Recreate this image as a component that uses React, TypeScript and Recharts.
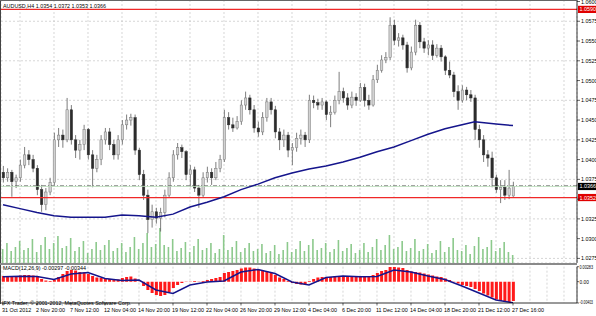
import React from "react";
import {
  Bar,
  CartesianGrid,
  ComposedChart,
  Line,
  ReferenceLine,
  XAxis,
  YAxis,
} from "recharts";

// AUDUSD H4, one candle per 8h (two H4 bars), 31 Oct – 27 Dec 2012
const openP = [
  1.0384, 1.0377, 1.0384, 1.0372, 1.0377, 1.0393, 1.0406, 1.04, 1.0389, 1.0362,
  1.0343, 1.0359, 1.0371, 1.0425, 1.0431, 1.0425, 1.0463, 1.0425, 1.0412, 1.0419,
  1.0438, 1.0406, 1.0389, 1.04, 1.0425, 1.0435, 1.0419, 1.0406, 1.0425, 1.0444,
  1.045, 1.0453, 1.0412, 1.0381, 1.0355, 1.0324, 1.0334, 1.0326, 1.0333, 1.0355,
  1.0377, 1.0406, 1.0415, 1.041, 1.0381, 1.0387, 1.0364, 1.0355, 1.0377, 1.0384,
  1.0377, 1.0389, 1.04, 1.0453, 1.0444, 1.044, 1.0448, 1.0469, 1.0478, 1.0463,
  1.044, 1.0435, 1.0453, 1.0473, 1.0463, 1.0435, 1.0425, 1.0431, 1.0412, 1.0415,
  1.0427, 1.0431, 1.0425, 1.0475, 1.0472, 1.0469, 1.0473, 1.0457, 1.046, 1.0475,
  1.0486, 1.0478, 1.0469, 1.0479, 1.0475, 1.0491, 1.0475, 1.0469, 1.0501, 1.0513,
  1.0526, 1.0529, 1.057, 1.0551, 1.0554, 1.0545, 1.0516, 1.0536, 1.057, 1.0549,
  1.0541, 1.0545, 1.0532, 1.0541, 1.053, 1.0513, 1.0507, 1.0486, 1.0475, 1.0488,
  1.0482, 1.0478, 1.0438, 1.0425, 1.0406, 1.0402, 1.0377, 1.0362, 1.0365, 1.0355,
  1.0354,
];
const highP = [
  1.0392, 1.0389, 1.0387, 1.0381, 1.04, 1.0416, 1.0412, 1.0406, 1.0393, 1.0368,
  1.0364, 1.0377, 1.0434, 1.044, 1.0438, 1.0478, 1.0469, 1.0431, 1.0425, 1.0444,
  1.044, 1.0412, 1.0406, 1.0431, 1.044, 1.044, 1.0425, 1.0431, 1.045, 1.0457,
  1.0458, 1.0457, 1.0415, 1.0387, 1.0362, 1.0343, 1.0339, 1.0339, 1.0362, 1.0384,
  1.0412, 1.0421, 1.0419, 1.0412, 1.0393, 1.0391, 1.0368, 1.0384, 1.0391, 1.0389,
  1.0397, 1.0406, 1.0463, 1.046, 1.0453, 1.0455, 1.0475, 1.0486, 1.0482, 1.0469,
  1.0448, 1.046, 1.0478, 1.0478, 1.0468, 1.044, 1.0438, 1.0435, 1.0421, 1.0434,
  1.0438, 1.0435, 1.0482, 1.0481, 1.0477, 1.0478, 1.0475, 1.0468, 1.0481, 1.0511,
  1.0491, 1.0484, 1.0486, 1.0484, 1.0497, 1.0496, 1.0482, 1.0507, 1.052, 1.0532,
  1.0536, 1.058, 1.0577, 1.056, 1.0558, 1.0549, 1.0543, 1.0577, 1.0574, 1.0554,
  1.0551, 1.0551, 1.0546, 1.0545, 1.0532, 1.0524, 1.0511, 1.0494, 1.0494, 1.0492,
  1.0488, 1.0482, 1.0444, 1.0431, 1.0412, 1.041, 1.0381, 1.0374, 1.0374, 1.0387,
  1.0372,
];
const lowP = [
  1.0371, 1.0372, 1.0353, 1.0364, 1.0372, 1.0389, 1.0393, 1.0384, 1.0355, 1.0334,
  1.0336, 1.0355, 1.0368, 1.0416, 1.0415, 1.0422, 1.0419, 1.0402, 1.04, 1.0412,
  1.04, 1.0365, 1.0384, 1.0393, 1.0419, 1.0412, 1.04, 1.04, 1.0419, 1.0438,
  1.0443, 1.0406, 1.0374, 1.0349, 1.0307, 1.0314, 1.0319, 1.0309, 1.0327, 1.0352,
  1.0372, 1.04, 1.0402, 1.0374, 1.0365, 1.0359, 1.0339, 1.0352, 1.0371, 1.0368,
  1.0374, 1.0384, 1.0397, 1.0438, 1.0435, 1.0438, 1.0444, 1.0463, 1.0457, 1.0434,
  1.0429, 1.0431, 1.0448, 1.0457, 1.0427, 1.0412, 1.0416, 1.0403, 1.0393, 1.041,
  1.0419, 1.0416, 1.0421, 1.0465, 1.0463, 1.0463, 1.045, 1.0441, 1.0457, 1.047,
  1.0472, 1.0463, 1.0465, 1.0468, 1.0473, 1.0467, 1.0463, 1.0467, 1.0497, 1.051,
  1.0522, 1.0526, 1.0545, 1.0543, 1.0539, 1.051, 1.0513, 1.0532, 1.0541, 1.0535,
  1.0532, 1.0526, 1.0529, 1.0524, 1.0507, 1.0503, 1.0479, 1.0463, 1.0472, 1.0475,
  1.0473, 1.0425, 1.0415, 1.0397, 1.0391, 1.0365, 1.0358, 1.0345, 1.0349, 1.035,
  1.0353,
];
const closeP = [
  1.0377, 1.0384, 1.0372, 1.0377, 1.0393, 1.0406, 1.04, 1.0389, 1.0362, 1.0343,
  1.0359, 1.0371, 1.0425, 1.0431, 1.0425, 1.0463, 1.0425, 1.0412, 1.0419, 1.0438,
  1.0406, 1.0389, 1.04, 1.0425, 1.0435, 1.0419, 1.0406, 1.0425, 1.0444, 1.045,
  1.0453, 1.0412, 1.0381, 1.0355, 1.0324, 1.0334, 1.0326, 1.0333, 1.0355, 1.0377,
  1.0406, 1.0415, 1.041, 1.0381, 1.0387, 1.0364, 1.0355, 1.0377, 1.0384, 1.0377,
  1.0389, 1.04, 1.0453, 1.0444, 1.044, 1.0448, 1.0469, 1.0478, 1.0463, 1.044,
  1.0435, 1.0453, 1.0473, 1.0463, 1.0435, 1.0425, 1.0431, 1.0412, 1.0415, 1.0427,
  1.0431, 1.0425, 1.0475, 1.0472, 1.0469, 1.0473, 1.0457, 1.046, 1.0475, 1.0486,
  1.0478, 1.0469, 1.0479, 1.0475, 1.0491, 1.0475, 1.0469, 1.0501, 1.0513, 1.0526,
  1.0529, 1.057, 1.0551, 1.0554, 1.0545, 1.0516, 1.0536, 1.057, 1.0549, 1.0541,
  1.0545, 1.0532, 1.0541, 1.053, 1.0513, 1.0507, 1.0486, 1.0475, 1.0488, 1.0482,
  1.0478, 1.0438, 1.0425, 1.0406, 1.0402, 1.0377, 1.0362, 1.0365, 1.0355, 1.0364,
  1.0366,
];
const volumes = [
  1400, 2000, 1200, 1600, 2200, 1300, 1500, 2400, 1100, 1800, 2600, 1400,
  2000, 2700, 1500, 1700, 2500, 1200, 1600, 2200, 1000, 1400, 2100, 1300,
  1800, 2300, 1200, 1500, 2000, 1100, 1600, 2600, 1400, 2000, 3000, 1600,
  1900, 3500, 1800, 1600, 2400, 1200, 1500, 2100, 1100, 1700, 2400, 1300,
  1500, 2000, 1000, 1400, 2800, 1300, 1600, 2200, 1100, 1500, 2000, 1200,
  1400, 1900, 1000, 1200, 1800, 900, 1300, 2100, 1100, 1400, 2200, 1200,
  1800, 2400, 1300, 1500, 2000, 1100, 1400, 2300, 1200, 1500, 1900, 1000,
  1300, 2000, 1100, 1600, 2400, 1300, 1800, 2800, 1400, 1600, 2200, 1200,
  1500, 2400, 1200, 1400, 1900, 1000, 1300, 2200, 1100, 1600, 2500, 1300,
  1200, 1800, 900, 1700, 2600, 1400, 1600, 2300, 1200, 1500, 2100, 1100,
  800,
];

// moving average (blue), sampled along the candles
const maIdx = [0, 4, 8, 12, 16, 20, 24, 28, 32, 36, 40, 44, 48, 52, 56, 60, 64, 68, 72, 76, 80, 84, 88, 92, 96, 100, 104, 108, 111, 116, 120];
const maVal = [
  1.0343, 1.0338, 1.0333, 1.0329, 1.0327, 1.0327, 1.0327, 1.033, 1.0329, 1.0327,
  1.0331, 1.034, 1.0346, 1.0353, 1.0362, 1.0369, 1.0377, 1.0383, 1.0388, 1.0392,
  1.0397, 1.0403, 1.041, 1.0416, 1.0424, 1.0432, 1.0439, 1.0444, 1.0448, 1.0445,
  1.0443,
];

// MACD(12,26,9) histogram and signal
const macdHist = [
  0.00108, 0.00108, 0.00098, 0.00108, 0.00117, 0.00127, 0.00127, 0.00117, 0.00089, 0.00051,
  0.00023, 0.00013, 0.00032, 0.00089, 0.00146, 0.00202, 0.00221, 0.00212, 0.00183, 0.00174,
  0.00146, 0.00108, 0.00079, 0.0007, 0.0007, 0.00051, 0.00032, 0.00042, 0.0007, 0.00089,
  0.00098, 0.0006, -0.00006, -0.00081, -0.00157, -0.00214, -0.00251, -0.0027, -0.00251, -0.00195,
  -0.00119, -0.00062, -0.00025, -0.00006, 0.00004, 0.00013, 0.00004, 0.00013, 0.00032, 0.00051,
  0.0007, 0.00089, 0.00164, 0.00183, 0.00202, 0.00221, 0.00249, 0.00268, 0.00268, 0.00249,
  0.00221, 0.00212, 0.00202, 0.00174, 0.00127, 0.00079, 0.00051, 0.00013, -0.00025, -0.00043,
  -0.00053, -0.00053, 0.00013, 0.00051, 0.00079, 0.00089, 0.00089, 0.00089, 0.00098, 0.00108,
  0.00108, 0.00098, 0.00098, 0.00098, 0.00108, 0.00108, 0.00098, 0.00127, 0.00164, 0.00202,
  0.00221, 0.00278, 0.00278, 0.00268, 0.00259, 0.00221, 0.00193, 0.00183, 0.00174, 0.00155,
  0.00136, 0.00117, 0.00098, 0.00089, 0.0006, 0.00032, -0.00006, -0.00034, -0.00062, -0.00081,
  -0.001, -0.00138, -0.00176, -0.00223, -0.00261, -0.00299, -0.00336, -0.00365, -0.00384, -0.00384,
  -0.00365,
];
const sigIdx = maIdx.slice(0, 28).concat([112, 116, 120]);
const sigVal = [
  0.00095, 0.00102, 0.00098, 0.00042, 0.00146, 0.00174, 0.0006, 0.00023, 0.00032, -0.00157,
  -0.00223, -0.00062, -0.00006, 0.00013, 0.00183, 0.00231, 0.00155, -0.00006, -0.00062, 0.00079,
  0.00108, 0.00095, 0.00098, 0.00221, 0.00183, 0.00108, 0.00042, -0.00081, -0.00214, -0.00346,
  -0.00397,
];

const timeLabels = [
  "31 Oct 2012", "2 Nov 20:00", "7 Nov 12:00", "12 Nov 04:00", "14 Nov 20:00",
  "19 Nov 12:00", "22 Nov 04:00", "26 Nov 20:00", "29 Nov 12:00", "4 Dec 04:00",
  "6 Dec 20:00", "11 Dec 12:00", "14 Dec 04:00", "18 Dec 20:00", "21 Dec 12:00",
  "27 Dec 16:00",
];
const priceTicks = [1.06, 1.0575, 1.055, 1.0525, 1.05, 1.0475, 1.045, 1.0425, 1.04, 1.0375, 1.035, 1.0325, 1.03, 1.0275];
const macdTicks = [0.00283, 0, -0.00403];
const gridTicks = Array.from({ length: 34 }, (_, k) => k * 4);

const maMap = new Map(maIdx.map((k, j) => [k, maVal[j]]));
const sigMap = new Map(sigIdx.map((k, j) => [k, sigVal[j]]));
const rows = openP.map((o, i) => ({
  i,
  open: o,
  high: highP[i],
  low: lowP[i],
  close: closeP[i],
  volume: volumes[i],
  ma: maMap.get(i),
  macd: macdHist[i],
  signal: sigMap.get(i),
}));

const W = 596;
const MAIN_H = 263;
const X_DOMAIN: [number, number] = [-0.47, 135.06];
const PRICE_DOMAIN: [number, number] = [1.02692, 1.06019];
const FONT = "'Liberation Sans', Arial, sans-serif";
const FS = 5.4;
const RED_LINE = "#f02828";

function Candle(props: any) {
  const { x, y, width, height, payload } = props;
  if (!payload || height == null) return null;
  const top = Math.min(y, y + height);
  const h = Math.abs(height);
  const span = payload.high - payload.low || 1;
  const toY = (v: number) => top + ((payload.high - v) / span) * h;
  const cx = x + width / 2;
  const bull = payload.close >= payload.open;
  const yo = toY(payload.open);
  const yc = toY(payload.close);
  const bw = 2.4;
  return (
    <g>
      <line x1={cx} x2={cx} y1={top} y2={top + h} stroke="#5c5c5c" strokeWidth={0.8} />
      <rect
        x={cx - bw / 2}
        y={Math.min(yo, yc)}
        width={bw}
        height={Math.max(Math.abs(yo - yc), 0.8)}
        fill={bull ? "#d2d2d2" : "#2c2c2c"}
        stroke={bull ? "#787878" : "#2c2c2c"}
        strokeWidth={0.5}
      />
    </g>
  );
}

function PriceTick(props: any) {
  const { x, y, payload } = props;
  if (Math.abs(payload.value - 1.035) < 1e-7) return null;
  return (
    <text x={x} y={y + 2} fontSize={FS} fontFamily={FONT} fill="#000">
      {payload.value.toFixed(4)}
    </text>
  );
}

function MacdTick(props: any) {
  const { x, y, payload } = props;
  const v = payload.value;
  const label = v === 0 ? "0.00" : v.toFixed(5);
  return (
    <text
      x={x}
      y={y + (v < 0 ? 1 : 2)}
      fontSize={4.8}
      fontFamily={FONT}
      fill="#000"
      textLength={v === 0 ? undefined : 13.5}
      lengthAdjust="spacingAndGlyphs"
    >
      {label}
    </text>
  );
}

function TimeTick(props: any) {
  const { x, y, payload } = props;
  const v = payload.value;
  if (v % 8 !== 0 || v > 120) return null;
  return (
    <g>
      <line x1={x} x2={x} y1={y} y2={y + 2.5} stroke="#000" strokeWidth={0.6} />
      <text x={x - 1} y={y + 8.6} fontSize={FS} fontFamily={FONT} fill="#000">
        {timeLabels[v / 8]}
      </text>
    </g>
  );
}

function boxLabel(text: string, bg: string) {
  return (p: any) => {
    const vb = p.viewBox || {};
    const bx = vb.x + vb.width + 1;
    return (
      <g>
        <rect x={bx} y={vb.y - 3.6} width={18} height={7.2} fill={bg} />
        <text x={bx + 1.5} y={vb.y + 2} fontSize={FS} fontFamily={FONT} fill="#fff">
          {text}
        </text>
      </g>
    );
  };
}

export default function App() {
  const layer: React.CSSProperties = { position: "absolute", left: 0, top: 0 };
  return (
    <div
      style={{
        position: "fixed",
        left: 0,
        top: 0,
        width: W,
        height: 316,
        background: "#fff",
        overflow: "hidden",
      }}
    >
      {/* grid + volumes underneath */}
      <div style={layer}>
        <ComposedChart width={W} height={MAIN_H} data={rows} margin={{ top: 0, right: 19, bottom: 0, left: 1 }}>
          <XAxis dataKey="i" type="number" domain={X_DOMAIN} ticks={gridTicks} hide allowDataOverflow />
          <YAxis yAxisId="p" domain={PRICE_DOMAIN} ticks={priceTicks} hide allowDataOverflow />
          <YAxis yAxisId="v" domain={[0, 26300]} hide />
          <CartesianGrid yAxisId="p" stroke="#c4c4c4" strokeDasharray="2 2" strokeWidth={0.7} />
          <Bar yAxisId="v" dataKey="volume" fill="#8cc98c" barSize={1.6} isAnimationActive={false} />
        </ComposedChart>
      </div>

      {/* price */}
      <div style={layer}>
        <ComposedChart width={W} height={MAIN_H} data={rows} margin={{ top: 0, right: 0, bottom: 0, left: 1 }}>
          <XAxis dataKey="i" type="number" domain={X_DOMAIN} ticks={gridTicks} hide allowDataOverflow />
          <YAxis
            orientation="right"
            width={19}
            domain={PRICE_DOMAIN}
            ticks={priceTicks}
            allowDataOverflow
            interval={0}
            tickSize={3}
            tickMargin={1}
            axisLine={{ stroke: "#000", strokeWidth: 0.8 }}
            tickLine={{ stroke: "#000", strokeWidth: 0.6 }}
            tick={<PriceTick />}
          />
          <ReferenceLine y={1.0367} stroke="#5a5a5a" strokeWidth={0.7} strokeDasharray="4 2 1 2" />
          <ReferenceLine y={1.0366} stroke="#b9dcb9" strokeWidth={0.8} label={boxLabel("1.0366", "#000")} />
          <ReferenceLine y={1.0352} stroke={RED_LINE} strokeWidth={1.2} label={boxLabel("1.0352", "#e00000")} />
          <ReferenceLine y={1.059} stroke={RED_LINE} strokeWidth={1.1} label={boxLabel("1.0590", "#e00000")} />
          <Bar
            dataKey={(d: any) => [d.low, d.high]}
            barSize={3}
            shape={<Candle />}
            isAnimationActive={false}
          />
          <Line
            dataKey="ma"
            stroke="#15158c"
            strokeWidth={1.5}
            dot={false}
            connectNulls
            isAnimationActive={false}
          />
        </ComposedChart>
      </div>

      {/* MACD */}
      <div style={{ ...layer, top: 265 }}>
        <ComposedChart width={W} height={51} data={rows} margin={{ top: 1.7, right: 0, bottom: 0, left: 1 }}>
          <CartesianGrid horizontal={false} stroke="#c4c4c4" strokeDasharray="2 2" strokeWidth={0.7} />
          <XAxis
            dataKey="i"
            type="number"
            domain={X_DOMAIN}
            ticks={gridTicks}
            interval={0}
            allowDataOverflow
            height={13}
            tickSize={0}
            tickMargin={0}
            tickLine={false}
            axisLine={{ stroke: "#000", strokeWidth: 0.8 }}
            tick={<TimeTick />}
          />
          <YAxis
            orientation="right"
            width={19}
            domain={[-0.00403, 0.00283]}
            ticks={macdTicks}
            interval={0}
            allowDataOverflow
            tickSize={2}
            tickMargin={0.5}
            axisLine={{ stroke: "#000", strokeWidth: 0.8 }}
            tickLine={{ stroke: "#000", strokeWidth: 0.6 }}
            tick={<MacdTick />}
          />
          <Bar dataKey="macd" fill="#ff1a1a" barSize={3} isAnimationActive={false} />
          <Line
            dataKey="signal"
            stroke="#15158c"
            strokeWidth={1.5}
            dot={false}
            connectNulls
            isAnimationActive={false}
          />
        </ComposedChart>
      </div>

      {/* frame and captions */}
      <svg width={W} height={316} style={{ ...layer, pointerEvents: "none" }}>
        <line x1={0.5} x2={0.5} y1={0} y2={304} stroke="#444" strokeWidth={1} />
        <line x1={0} x2={577} y1={0.5} y2={0.5} stroke="#666" strokeWidth={1} />
        <rect x={0} y={263} width={577} height={2} fill="#8a8a8a" />
        <text x={3} y={7.6} fontSize={FS} fontFamily={FONT} fill="#000">
          AUDUSD,H4 1.0354 1.0372 1.0353 1.0366
        </text>
        <text x={3} y={270.2} fontSize={FS} fontFamily={FONT} fill="#000">
          MACD(12,26,9) -0.00297 -0.00344
        </text>
        <text x={2} y={304.6} fontSize={FS} fontFamily={FONT} fill="#000">
          IFX Trader, © 2001-2012, MetaQuotes Software Corp.
        </text>
      </svg>
    </div>
  );
}
